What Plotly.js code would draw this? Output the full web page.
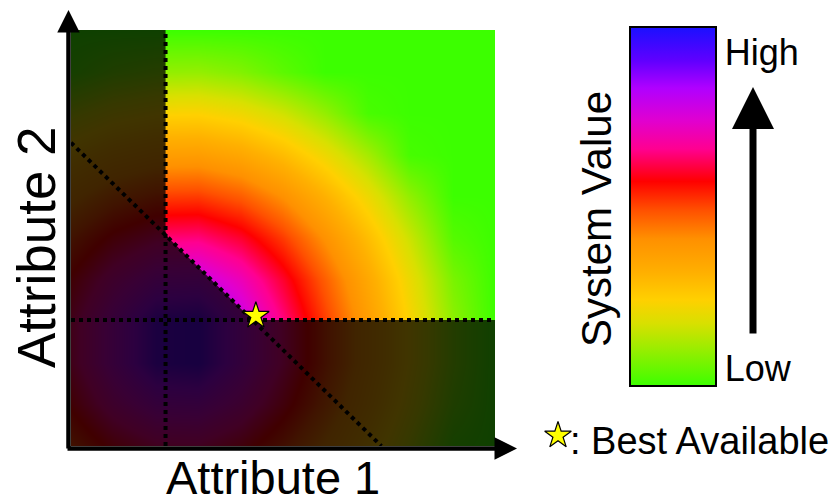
<!DOCTYPE html>
<html>
<head>
<meta charset="utf-8">
<script src="https://cdn.plot.ly/plotly-3.0.1.min.js"></script>
<style>
  html, body { margin: 0; padding: 0; background: #ffffff; }
  #chart { width: 840px; height: 504px; }
</style>
</head>
<body>
<div id="chart"></div>
<script>
// ---- data ----
const attr1Grid = [0, 1, 2, 3, 4, 5, 6, 7, 8, 9, 10];
const attr2Grid = [0, 1, 2, 3, 4, 5, 6, 7, 8, 9, 10];
// system value (0 = low, 1 = high), rows follow attr2Grid, columns follow attr1Grid
const systemValue = [
  [0.498, 0.588, 0.644, 0.648, 0.599, 0.512, 0.404, 0.284, 0.158, 0.027, 0],
  [0.581, 0.696, 0.777, 0.783, 0.710, 0.599, 0.473, 0.340, 0.205, 0.068, 0],
  [0.630, 0.768, 0.894, 0.908, 0.786, 0.650, 0.510, 0.370, 0.229, 0.089, 0],
  [0.630, 0.768, 0.894, 0.908, 0.786, 0.650, 0.510, 0.370, 0.229, 0.089, 0],
  [0.581, 0.696, 0.777, 0.783, 0.710, 0.599, 0.473, 0.340, 0.205, 0.068, 0],
  [0.498, 0.588, 0.644, 0.648, 0.599, 0.512, 0.404, 0.284, 0.158, 0.027, 0],
  [0.394, 0.466, 0.508, 0.511, 0.474, 0.406, 0.314, 0.208, 0.092, 0, 0],
  [0.278, 0.338, 0.371, 0.373, 0.344, 0.288, 0.210, 0.116, 0.011, 0, 0],
  [0.155, 0.206, 0.233, 0.235, 0.211, 0.164, 0.096, 0.013, 0, 0, 0],
  [0.028, 0.072, 0.095, 0.097, 0.076, 0.035, 0, 0, 0, 0, 0],
  [0, 0, 0, 0, 0, 0, 0, 0, 0, 0, 0]
];
const attr1Min = 2.23;            // minimum acceptable Attribute 1
const attr2Min = 3.03;            // minimum acceptable Attribute 2
const budgetAttr1 = [0, 7.32];    // trade-off (budget) line
const budgetAttr2 = [7.29, 0];
const bestAttr1 = [4.36];         // best available point
const bestAttr2 = [3.13];
const keyX = [0.5];               // star of the key, in its own small frame
const keyY = [0.5];
const valueTicks = [0.05, 0.93];
const valueTickText = ['Low', 'High'];
const valueStops = [0, 0.11, 0.174, 0.24, 0.315, 0.41, 0.49, 0.57, 0.66, 0.74, 0.83, 0.906, 1];
const valueColors = ['#3cff00', '#a0ec00', '#d8e000', '#ffd000', '#ffb000', '#ff9000',
                     '#ff5000', '#ff0000', '#ff0090', '#e000d0', '#b000ff', '#6000ff', '#1a10ff'];

// ---- derived ----
const colorscale = valueStops.map((s, i) => [s, valueColors[i]]);
const xMax = attr1Grid[attr1Grid.length - 1];
const yMax = attr2Grid[attr2Grid.length - 1];
const slope = (budgetAttr2[1] - budgetAttr2[0]) / (budgetAttr1[1] - budgetAttr1[0]);
const yAtA = budgetAttr2[0] + slope * (attr1Min - budgetAttr1[0]);
const xAtB = budgetAttr1[0] + (attr2Min - budgetAttr2[0]) / slope;
const infeasX = [0, xMax, xMax, xAtB, attr1Min, attr1Min, 0, 0];
const infeasY = [0, 0, attr2Min, attr2Min, yAtA, yMax, yMax, 0];

// layout geometry (pixels)
const L = 71, T = 30, W = 769, H = 416, PW = 424;
const px = v => (v - L) / W;
const py = v => (T + H - v) / H;

const FONT = '"Liberation Sans", Arial, Helvetica, sans-serif';
const STAR = { symbol: 'star', size: 20, color: '#ffff00', line: { color: '#000', width: 1.2 } };

const traces = [
  {
    type: 'heatmap', x: attr1Grid, y: attr2Grid, z: systemValue,
    zmin: 0, zmax: 1, zsmooth: 'best', colorscale: colorscale,
    hoverinfo: 'skip',
    colorbar: {
      x: px(630), xanchor: 'left', xpad: 0,
      y: py(27), yanchor: 'top', ypad: 0,
      len: 359, lenmode: 'pixels', thickness: 86, thicknessmode: 'pixels',
      outlinewidth: 2, outlinecolor: '#000',
      tickmode: 'array', tickvals: valueTicks, ticktext: valueTickText,
      ticks: '', ticklen: 0, showticklabels: true,
      tickfont: { family: FONT, size: 36, color: '#000' }
    }
  },
  {
    type: 'scatter', mode: 'lines', x: infeasX, y: infeasY,
    fill: 'toself', fillcolor: 'rgba(0,0,0,0.75)', line: { width: 0 },
    hoverinfo: 'skip', showlegend: false
  },
  {
    type: 'scatter', mode: 'lines', x: [attr1Min, attr1Min], y: [0, yMax],
    line: { color: '#000', width: 4, dash: 'dot' }, hoverinfo: 'skip', showlegend: false
  },
  {
    type: 'scatter', mode: 'lines', x: [0, xMax], y: [attr2Min, attr2Min],
    line: { color: '#000', width: 4, dash: 'dot' }, hoverinfo: 'skip', showlegend: false
  },
  {
    type: 'scatter', mode: 'lines', x: budgetAttr1, y: budgetAttr2,
    line: { color: '#000', width: 4, dash: 'dot' }, hoverinfo: 'skip', showlegend: false
  },
  {
    type: 'scatter', mode: 'markers', x: bestAttr1, y: bestAttr2, marker: STAR,
    hoverinfo: 'skip', showlegend: false, cliponaxis: false
  },
  {
    type: 'scatter', mode: 'markers', x: keyX, y: keyY, xaxis: 'x2', yaxis: 'y2', marker: STAR,
    hoverinfo: 'skip', showlegend: false, cliponaxis: false
  }
];

const txt = (text, x, y, size, extra) => Object.assign({
  text: text, x: x, y: y, xref: 'paper', yref: 'paper', showarrow: false,
  xanchor: 'center', yanchor: 'middle', borderpad: 0,
  font: { family: FONT, size: size, color: '#000' }
}, extra || {});

const arrow = (x, y, ax, ay, w, s) => ({
  text: '', x: x, y: y, xref: 'paper', yref: 'paper', ax: ax, ay: ay,
  showarrow: true, arrowhead: 2, arrowsize: s, arrowwidth: w, arrowcolor: '#000', standoff: 0
});

const hiddenAxis = { showgrid: false, zeroline: false, showticklabels: false,
                     showline: false, ticks: '', fixedrange: true };

const layout = {
  width: 840, height: 504,
  margin: { l: L, r: 840 - L - W, t: T, b: 504 - T - H, pad: 0 },
  paper_bgcolor: '#ffffff', plot_bgcolor: 'rgba(0,0,0,0)',
  showlegend: false,
  xaxis: Object.assign({ range: [0, xMax], domain: [0, PW / W] }, hiddenAxis),
  yaxis: Object.assign({ range: [0, yMax], domain: [0, 1] }, hiddenAxis),
  xaxis2: Object.assign({ range: [0, 1], domain: [px(540), px(576)], anchor: 'y2' }, hiddenAxis),
  yaxis2: Object.assign({ range: [0, 1], domain: [py(461), py(425)], anchor: 'x2' }, hiddenAxis),
  annotations: [
    arrow(px(68.5), py(10), 0, 440, 4.5, 1.0),
    arrow(px(517), py(448.5), -451, 0, 4.5, 1.0),
    arrow(px(753), py(87), 0, 248, 7, 1.2),
    txt('Attribute 1', px(273), py(477), 47),
    txt('Attribute 2', px(36), py(247), 53, { textangle: -90 }),
    txt('System Value', px(596), py(219), 42, { textangle: -90 }),
    txt(': Best Available', px(569), py(441), 38, { xanchor: 'left' })
  ]
};

Plotly.newPlot('chart', traces, layout, { staticPlot: true, displayModeBar: false });
</script>
</body>
</html>
